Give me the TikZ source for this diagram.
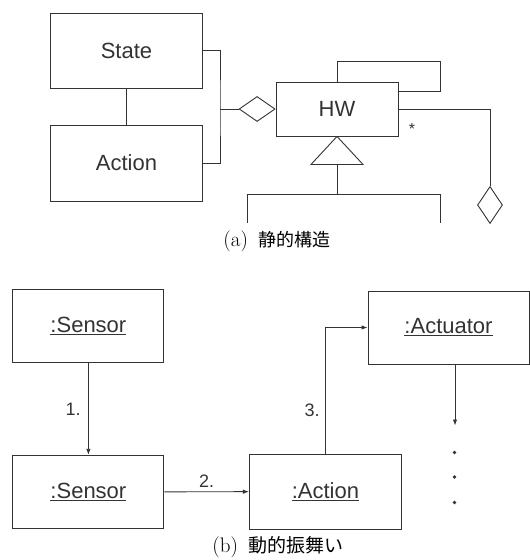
\documentclass[tikz,border=0pt]{standalone}
\usepackage{fontspec}
\setsansfont{Liberation Sans}
\newfontfamily\jafont{Noto Sans CJK JP}
\usetikzlibrary{arrows.meta,shapes.geometric}

\begin{document}
\begin{tikzpicture}[x=1pt, y=-1pt, line width=0.9pt, color=black!80,
	every node/.style={font=\sffamily\fontsize{22}{26}\selectfont},
	cls/.style={draw, minimum width=152pt, minimum height=75pt, inner sep=0pt},
	agg/.style={draw, diamond, inner sep=0pt},
	num/.style={font=\sffamily\fontsize{18}{20}\selectfont},
	captxt/.style={font=\rmfamily\fontsize{21}{24}\selectfont, text=black},
	>={Latex[length=6pt, width=4.5pt]}]
	\useasboundingbox (0,0) rectangle (530,560);
	% (a) static structure
	\node[cls] (state) at (126.5,50.5) {State};
	\node[cls, minimum height=76pt] (action) at (126.5,163) {Action};
	\node[cls, minimum width=122pt, minimum height=54pt] (hw) at (337,109) {HW};
	\node[agg, minimum width=36pt, minimum height=25pt, anchor=east] (aggL) at (hw.west) {};
	\node[agg, minimum width=25pt, minimum height=37pt] (aggR) at (490,205) {};
	\node[font=\sffamily\fontsize{16}{18}\selectfont] (mult) at (412,129) {*};
	\coordinate (brk) at (220,109);
	\coordinate (selfloop) at (440,61);
	\draw (state) -- (action);
	\draw (state.east) -| (brk) |- (action.east);
	\draw (brk) -- (aggL);
	\draw (hw.north) |- (selfloop) |- ([yshift=18pt]hw.east);
	\draw (hw.east) -| (aggR.north);
	\draw (hw.south) -- ++(26,28) -- ++(-52,0) -- cycle;
	\coordinate (gen) at ([yshift=-28pt]hw.south);
	\coordinate (subA) at (247.5,223);
	\coordinate (subB) at (440,223);
	\draw (gen) -- ++(0,30) coordinate (bar);
	\draw (subA) |- (bar) -| (subB);
	\node[captxt] (capA) at (277,241) {(a)\hspace{0.5em}{\jafont\fontsize{18}{20}\selectfont 静的構造}};
	% (b) dynamic behaviour
	\node[cls, minimum width=151pt, minimum height=73.5pt] (sensA) at (88.4,326) {\underline{:Sensor}};
	\node[cls, minimum width=151pt, minimum height=73.5pt] (sensB) at (88.4,492) {\underline{:Sensor}};
	\node[cls] (act) at (325.4,491.5) {\underline{:Action}};
	\node[cls, minimum width=161pt, minimum height=73pt] (actu) at (448.5,327.5) {\underline{:Actuator}};
	\draw[->] (sensA) -- (sensB) node[num, midway, left=4pt] {1.};
	\draw[->] (sensB) -- (act) node[num, midway, above] {2.};
	\draw[->] (act.north) |- (actu.west) node[num, pos=0.17, left=2pt] {3.};
	\coordinate (actuEnd) at (455,425.5);
	\draw[->] (actuEnd |- actu.south) -- (actuEnd);
	\foreach \y [count=\i] in {452.5,477,502.5}
		\node[circle, fill, inner sep=0pt, minimum size=3.6pt] (dot\i) at (454.5,\y) {};
	\node[captxt] (capB) at (278,547) {(b)\hspace{0.5em}{\jafont\fontsize{19}{22}\selectfont 動的振舞い}};
\end{tikzpicture}
\end{document}
